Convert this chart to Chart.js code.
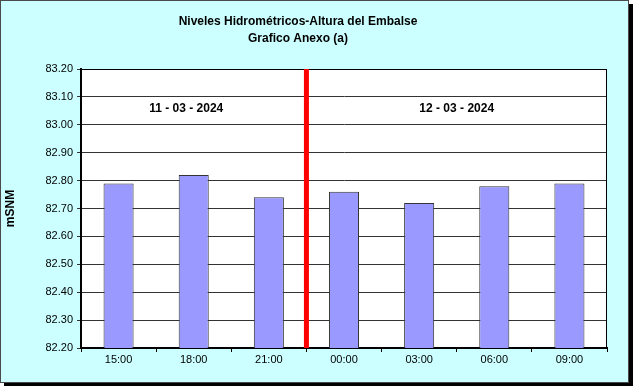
<!DOCTYPE html>
<html>
<head>
<meta charset="utf-8">
<script src="https://cdn.jsdelivr.net/npm/chart.js@4"></script>
<style>
  body { margin: 0; background: #fff; }
  #frame {
    position: absolute; left: 0; top: 0;
    width: 627px; height: 381px;
    background: #ccffff;
    border: 1px solid #4a4a4a;
    box-shadow: 4px 4px 0 #000;
  }
  #chart { position: absolute; left: 0; top: 0; }
</style>
</head>
<body>
<div id="frame"></div>
<canvas id="chart" width="633" height="386"></canvas>
<script>
// data
const horas = ['15:00', '18:00', '21:00', '00:00', '03:00', '06:00', '09:00']
const alturas = [82.79, 82.82, 82.74, 82.76, 82.72, 82.78, 82.79]
const titulo = ['Niveles Hidrométricos-Altura del Embalse', 'Grafico Anexo (a)']
const fechas = ['11 - 03 - 2024', '12 - 03 - 2024']
const fechaPos = [0.9, 4.5] // category index where each date is centred
const fechaNivel = 83.057 // height of the date labels
const corte = 2.5 // day change, between 21:00 and 00:00

const FONT = '"Liberation Sans", Arial, sans-serif'

// title, white plot area, plot frame, red day line and the date labels
const extras = {
  id: 'extras',
  beforeDraw(chart) {
    const ctx = chart.ctx
    const a = chart.chartArea
    ctx.save()
    ctx.fillStyle = '#fff'
    ctx.fillRect(a.left, a.top, a.right - a.left, a.bottom - a.top)
    ctx.fillStyle = '#000'
    ctx.font = 'bold 12px ' + FONT
    ctx.textAlign = 'center'
    ctx.textBaseline = 'middle'
    ctx.fillText(titulo[0], 298, 22)
    ctx.fillText(titulo[1], 298, 39)
    ctx.restore()
  },
  afterDatasetsDraw(chart) {
    const ctx = chart.ctx
    const a = chart.chartArea
    const x = chart.scales.x
    const y = chart.scales.y
    ctx.save()
    ctx.strokeStyle = '#000'
    ctx.lineWidth = 1
    ctx.strokeRect(a.left, a.top + 0.5, a.right - a.left - 0.5, a.bottom - a.top)

    const xc = x.getPixelForValue(corte)
    ctx.strokeStyle = '#ff0000'
    ctx.lineWidth = 5
    ctx.beginPath()
    ctx.moveTo(xc, a.top)
    ctx.lineTo(xc, a.bottom)
    ctx.stroke()

    ctx.fillStyle = '#000'
    ctx.font = 'bold 12px ' + FONT
    ctx.textAlign = 'center'
    ctx.textBaseline = 'middle'
    fechas.forEach(function (f, i) {
      ctx.fillText(f, x.getPixelForValue(fechaPos[i]), y.getPixelForValue(fechaNivel))
    })
    ctx.restore()
  }
}

new Chart(document.getElementById('chart'), {
  type: 'bar',
  data: {
    labels: horas,
    datasets: [{
      data: alturas,
      backgroundColor: '#9999ff',
      borderColor: '#333333',
      borderWidth: 1,
      borderSkipped: 'bottom',
      barPercentage: 0.4,
      categoryPercentage: 1
    }]
  },
  options: {
    responsive: false,
    animation: false,
    layout: { padding: { left: 0, top: 69, right: 26, bottom: 0 } },
    plugins: {
      legend: { display: false },
      tooltip: { enabled: false }
    },
    scales: {
      x: {
        afterFit(s) { s.height = 38 },
        grid: {
          offset: true,
          drawOnChartArea: false,
          color: '#000',
          tickLength: 4
        },
        border: { color: '#000', width: 2 },
        ticks: {
          color: '#000',
          font: { family: FONT, size: 11 },
          padding: 1,
          maxRotation: 0
        }
      },
      y: {
        min: 82.2,
        max: 83.2,
        afterFit(s) { s.width = 81 },
        afterBuildTicks(s) {
          s.ticks = []
          for (let i = 0; i <= 10; i++) s.ticks.push({ value: 82.2 + i * 0.1 })
        },
        grid: { color: '#333', tickLength: 4 },
        border: { color: '#000', width: 2 },
        ticks: {
          color: '#000',
          font: { family: FONT, size: 11 },
          padding: 4,
          callback: function (v) { return Number(v).toFixed(2) }
        },
        title: {
          display: true,
          text: 'mSNM',
          color: '#000',
          font: { family: FONT, size: 12, weight: 'bold' },
          padding: { top: 3, bottom: 0 }
        }
      }
    }
  },
  plugins: [extras]
})
</script>
</body>
</html>
